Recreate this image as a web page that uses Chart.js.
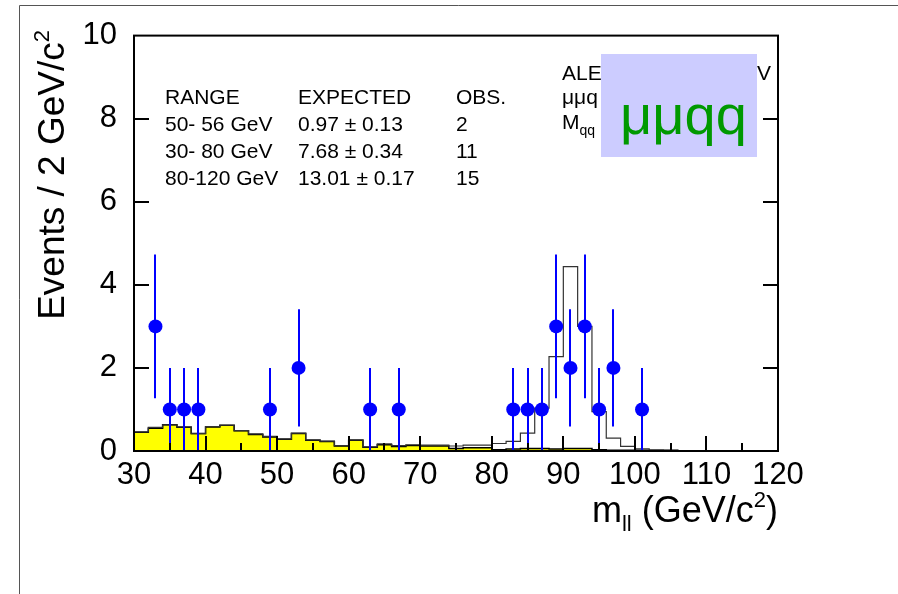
<!DOCTYPE html>
<html>
<head>
<meta charset="utf-8">
<script src="https://cdn.jsdelivr.net/npm/chart.js@4.4.0/dist/chart.umd.min.js"></script>
<style>
  body { margin: 0; background: #fff; }
  #wrap { width: 898px; height: 594px; }
</style>
</head>
<body>
<div id="wrap"><canvas id="massChart" width="898" height="594"></canvas></div>
<script>
// histogram binning (GeV/c^2)
const binStart = 30;
const binWidth = 2;

// total expectation (outline), one value per 2 GeV bin from 30 to 120
const totalExpected = [
  0.46, 0.57, 0.63, 0.58, 0.42, 0.59, 0.62, 0.49, 0.41, 0.35,
  0.29, 0.43, 0.27, 0.24, 0.13, 0.27, 0.10, 0.17, 0.13, 0.15,
  0.14, 0.14, 0.12, 0.14, 0.14, 0.18, 0.23, 0.43, 1.03, 2.27,
  4.44, 3.00, 0.95, 0.31, 0.11, 0.05, 0.03, 0.02, 0.01, 0.01,
  0.01, 0.01, 0.01, 0.01, 0.01
];

// background only (yellow)
const background = [
  0.45, 0.55, 0.63, 0.57, 0.42, 0.58, 0.62, 0.49, 0.40, 0.34,
  0.28, 0.42, 0.26, 0.23, 0.12, 0.26, 0.09, 0.15, 0.11, 0.13,
  0.12, 0.12, 0.06, 0.08, 0.08, 0.03, 0.05, 0.06, 0.06, 0.05,
  0.06, 0.06, 0.03, 0.02, 0.02, 0.02, 0.01, 0.01, 0.005, 0.005,
  0.005, 0.005, 0.005, 0.005, 0.005
];

// observed events
const obsMass  = [33, 35, 37, 39, 49, 53, 63, 67, 83, 85, 87, 89, 91, 93, 95, 97, 101];
const obsCount = [3, 1, 1, 1, 1, 2, 1, 1, 1, 1, 1, 3, 2, 3, 1, 2, 1];
const obsErr   = [1.73, 1, 1, 1, 1, 1.41, 1, 1, 1, 1, 1, 1.73, 1.41, 1.73, 1, 1.41, 1];

const xTicks = [30, 40, 50, 60, 70, 80, 90, 100, 110, 120];
const yTicks = [0, 2, 4, 6, 8, 10];

// summary table
const tableHead = ['RANGE', 'EXPECTED', 'OBS.'];
const tableRange = ['50- 56 GeV', '30- 80 GeV', '80-120 GeV'];
const tableExpected = ['0.97 \u00b1 0.13', '7.68 \u00b1 0.34', '13.01 \u00b1 0.17'];
const tableObs = ['2', '11', '15'];

const FONT = '"Liberation Sans", Arial, Helvetica, sans-serif';

// step points: each bin value is carried up to the bin's right edge
function histPoints(values) {
  const pts = [{ x: binStart, y: 0 }];
  values.forEach((v, i) => pts.push({ x: binStart + (i + 1) * binWidth, y: v }));
  return pts;
}

// draw text pieces (sub/superscripts) starting at x
function drawPieces(ctx, pieces, x, y, align) {
  let total = 0;
  pieces.forEach(p => { ctx.font = p.size + 'px ' + FONT; total += ctx.measureText(p.text).width; });
  let cx = align === 'right' ? x - total : x;
  ctx.textAlign = 'left';
  pieces.forEach(p => {
    ctx.font = p.size + 'px ' + FONT;
    ctx.fillText(p.text, cx, y + (p.dy || 0));
    cx += ctx.measureText(p.text).width;
  });
}

const frameAndText = {
  id: 'frameAndText',
  beforeDatasetDraw(chart, args) {
    if (args.index !== 2) return;
    const { ctx } = chart;
    const xs = chart.scales.x, ys = chart.scales.y;
    ctx.save();
    ctx.strokeStyle = '#0000ff';
    ctx.lineWidth = 2;
    obsMass.forEach((m, i) => {
      const px = Math.round(xs.getPixelForValue(m));
      ctx.beginPath();
      ctx.moveTo(px, ys.getPixelForValue(Math.max(0, obsCount[i] - obsErr[i])));
      ctx.lineTo(px, ys.getPixelForValue(obsCount[i] + obsErr[i]));
      ctx.stroke();
    });
    ctx.restore();
  },
  afterDraw(chart) {
    const { ctx, chartArea: a } = chart;
    const xs = chart.scales.x, ys = chart.scales.y;
    ctx.save();

    // outer page frame
    ctx.strokeStyle = '#555';
    ctx.lineWidth = 1;
    ctx.beginPath();
    ctx.moveTo(19.5, 594);
    ctx.lineTo(19.5, 5.5);
    ctx.lineTo(898, 5.5);
    ctx.stroke();

    // zero line
    ctx.strokeStyle = '#3333ff';
    ctx.lineWidth = 1;
    ctx.beginPath();
    ctx.moveTo(a.left, a.bottom - 0.5);
    ctx.lineTo(a.right, a.bottom - 0.5);
    ctx.stroke();

    // plot frame
    ctx.strokeStyle = '#000';
    ctx.lineWidth = 2;
    ctx.strokeRect(a.left, a.top, a.right - a.left, a.bottom - a.top);

    // inner ticks
    ctx.lineWidth = 2;
    ctx.beginPath();
    for (let v = 35; v < 120; v += 5) {
      const px = Math.round(xs.getPixelForValue(v));
      const len = v % 10 === 0 ? 15 : 8;
      ctx.moveTo(px, a.bottom);
      ctx.lineTo(px, a.bottom - len);
    }
    for (let v = 2; v < 10; v += 2) {
      const py = Math.round(ys.getPixelForValue(v));
      ctx.moveTo(a.left, py);
      ctx.lineTo(a.left + 15, py);
      ctx.moveTo(a.right, py);
      ctx.lineTo(a.right - 15, py);
    }
    ctx.stroke();

    ctx.fillStyle = '#000';
    ctx.textBaseline = 'alphabetic';

    // axis titles
    drawPieces(ctx, [
      { text: 'm', size: 36 },
      { text: 'll', size: 22, dy: 9 },
      { text: ' (GeV/c', size: 36 },
      { text: '2', size: 22, dy: -15 },
      { text: ')', size: 36 }
    ], a.right, 522, 'right');

    ctx.save();
    ctx.translate(64, 30);
    ctx.rotate(-Math.PI / 2);
    drawPieces(ctx, [
      { text: 'Events / 2 GeV/c', size: 37 },
      { text: '2', size: 22, dy: -15 }
    ], 0, 0, 'right');
    ctx.restore();

    // summary table
    const cols = [165, 298, 456];
    ctx.font = '21px ' + FONT;
    ctx.textAlign = 'left';
    tableHead.forEach((t, j) => ctx.fillText(t, cols[j], 104));
    tableRange.forEach((t, i) => {
      const y = 131 + i * 27;
      ctx.fillText(t, cols[0], y);
      ctx.fillText(tableExpected[i], cols[1], y);
      ctx.fillText(tableObs[i], cols[2], y);
    });

    // partly covered header
    ctx.fillText('ALE', 562, 80);
    ctx.fillText('V', 757, 80);
    ctx.fillText('\u03bc\u03bcq', 562, 104);
    drawPieces(ctx, [
      { text: 'M', size: 21 },
      { text: 'qq', size: 14, dy: 6 }
    ], 562, 129, 'left');

    // channel label box
    ctx.fillStyle = '#ccccff';
    ctx.fillRect(601, 54, 156, 103);
    ctx.fillStyle = '#009900';
    ctx.font = '56px ' + FONT;
    ctx.fillText('\u03bc\u03bcqq', 620, 134);

    ctx.restore();
  }
};

new Chart(document.getElementById('massChart'), {
  type: 'line',
  data: {
    datasets: [
      {
        label: 'background',
        data: histPoints(background),
        stepped: 'after',
        fill: 'origin',
        backgroundColor: '#ffff00',
        borderColor: '#000',
        borderWidth: 1.5,
        pointRadius: 0,
        order: 3
      },
      {
        label: 'expected',
        data: histPoints(totalExpected),
        stepped: 'after',
        fill: false,
        borderColor: '#333',
        borderWidth: 1.2,
        pointRadius: 0,
        order: 2
      },
      {
        type: 'scatter',
        label: 'data',
        data: obsMass.map((m, i) => ({ x: m, y: obsCount[i] })),
        pointRadius: 7,
        pointBackgroundColor: '#0000ff',
        pointBorderColor: '#0000ff',
        pointBorderWidth: 0,
        showLine: false,
        order: 1
      }
    ]
  },
  options: {
    responsive: false,
    animation: false,
    layout: { padding: { left: 0, top: 33, right: 120, bottom: 0 } },
    plugins: {
      legend: { display: false },
      tooltip: { enabled: false }
    },
    scales: {
      x: {
        type: 'linear',
        min: 30,
        max: 120,
        afterBuildTicks: s => { s.ticks = xTicks.map(v => ({ value: v })); },
        afterFit: s => { s.height = 143; },
        grid: { display: false, drawTicks: false },
        border: { display: false },
        ticks: { color: '#000', padding: 6, font: { family: FONT, size: 31 } }
      },
      y: {
        min: 0,
        max: 10,
        afterBuildTicks: s => { s.ticks = yTicks.map(v => ({ value: v })); },
        afterFit: s => { s.width = 134; },
        grid: { display: false, drawTicks: false },
        border: { display: false },
        ticks: { color: '#000', padding: 17, font: { family: FONT, size: 31 } }
      }
    }
  },
  plugins: [frameAndText]
});
</script>
</body>
</html>
